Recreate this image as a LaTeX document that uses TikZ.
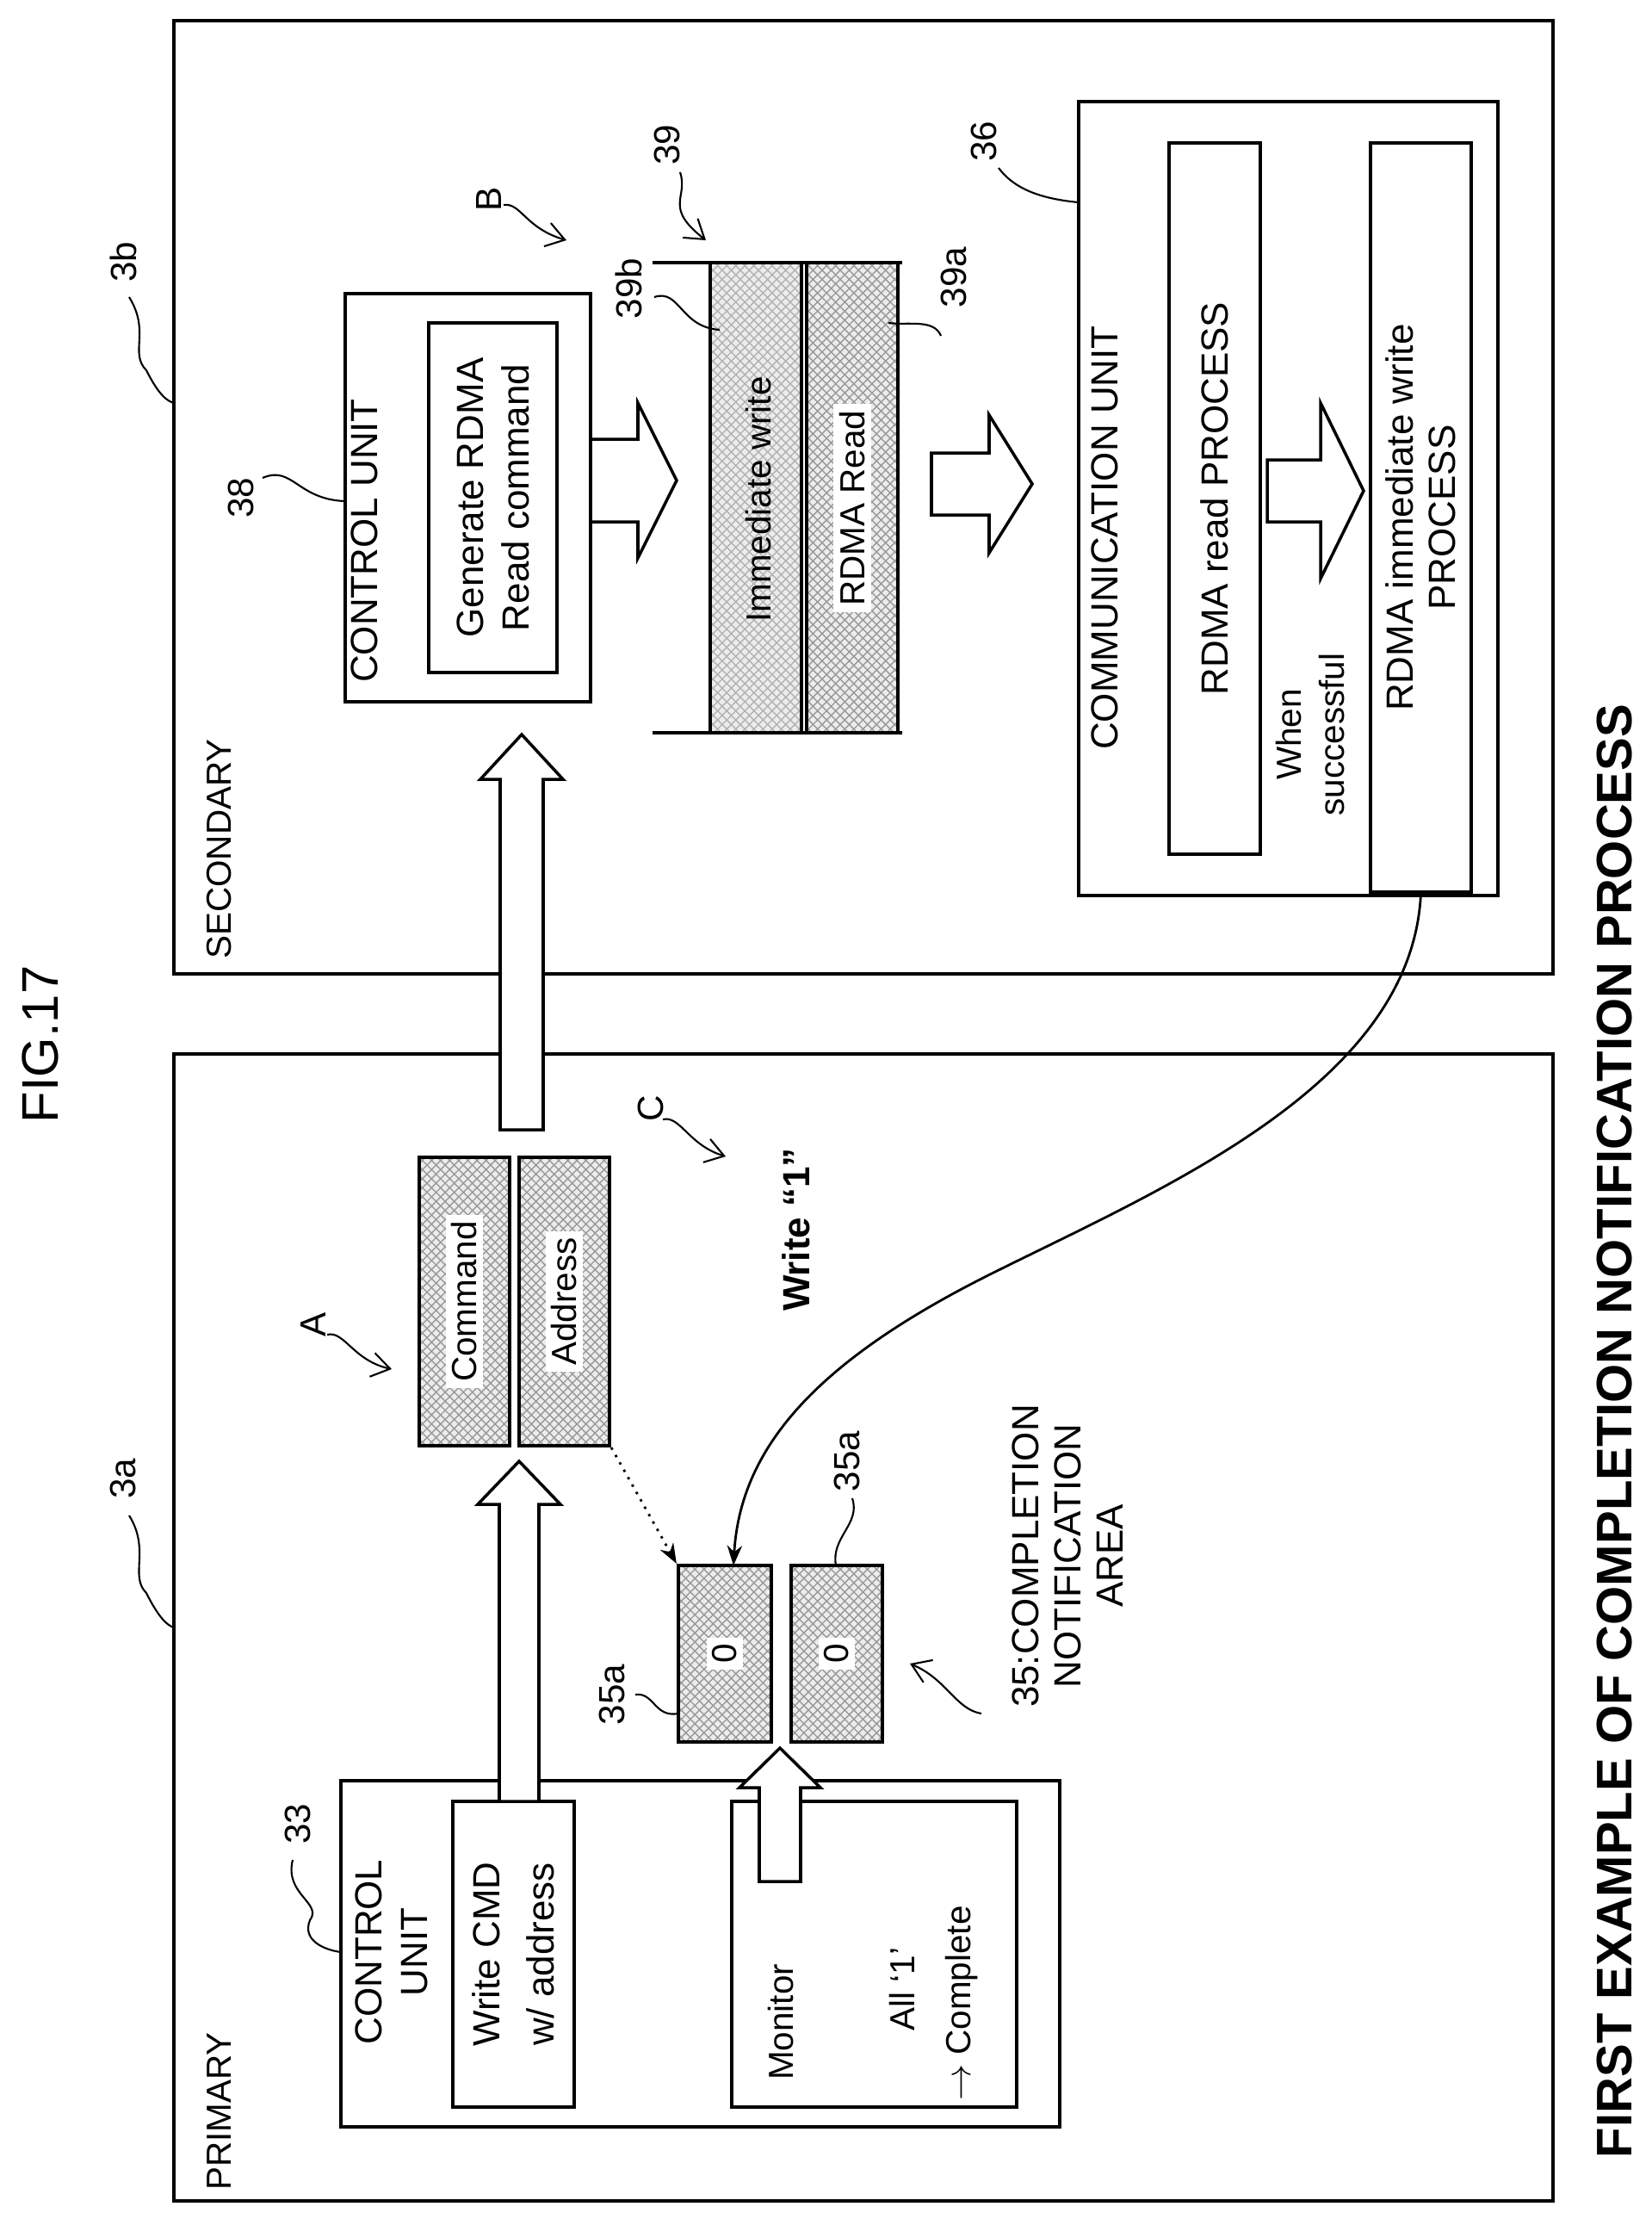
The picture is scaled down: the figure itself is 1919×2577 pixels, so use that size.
\documentclass[tikz,border=0pt]{standalone}
\usepackage{fontspec}
\setmainfont{Liberation Sans}
\usetikzlibrary{arrows.meta,fit,patterns}

\tikzstyle{frame}=[draw, line width=1.2pt, inner sep=0pt]
\tikzstyle{element}=[draw, line width=1pt, inner sep=0pt]
\tikzstyle{cell}=[draw, line width=1.2pt, inner sep=0pt, pattern=crosshatch,
                  pattern color=gray!80, preaction={fill=gray!15}]
\tikzstyle{txt}=[rotate=90, inner sep=1pt, align=center, font=\fontsize{11.5}{14}\selectfont]
\tikzstyle{ref}=[rotate=90, inner sep=1pt, font=\fontsize{12}{14}\selectfont]
\tikzstyle{fat}=[draw, line width=1pt, fill=white]
\tikzstyle{lead}=[line width=0.6pt]
\tikzstyle{point}=[line width=0.6pt, -{Straight Barb[length=6pt,width=8pt]}]

% hollow block arrows
\newcommand{\fatup}[6]{% centre x, half shaft, half head, base y, head base y, tip y
  \draw[fat] (#1-#2,#4) -- (#1-#2,#5) -- (#1-#3,#5) -- (#1,#6) -- (#1+#3,#5)
             -- (#1+#2,#5) -- (#1+#2,#4) -- cycle;}
\newcommand{\fatright}[6]{% centre y, half shaft, half head, base x, head base x, tip x
  \draw[fat] (#4,#1-#2) -- (#5,#1-#2) -- (#5,#1-#3) -- (#6,#1) -- (#5,#1+#3)
             -- (#5,#1+#2) -- (#4,#1+#2) -- cycle;}

\begin{document}
\begin{tikzpicture}[x=0.01cm, y=-0.01cm]
\useasboundingbox (0,0) rectangle (1919,2577);

%%%%%%%%%%%%%%%%%%%%%%%%%%%%%%
% frames

\node (fig) at (47,1213) [rotate=90, font=\fontsize{17}{20}\selectfont] {FIG.17};
\node (title) at (1876,1662) [rotate=90, font=\bfseries\fontsize{16.5}{18}\selectfont]
  {FIRST EXAMPLE OF COMPLETION NOTIFICATION PROCESS};

\node (prim) [frame, fit={(202,1224) (1804,2556)}] {};
\node (sec) [frame, fit={(202,24) (1804,1131)}] {};
\node (prim_t) at (255,2548) [txt, anchor=west] {PRIMARY};
\node (sec_t) at (255,1118) [txt, anchor=west] {SECONDARY};

\node (l3a) at (143,1717) [ref] {3a};
\draw [lead] (150,1760) .. controls (175,1800) and (150,1830) .. (170,1850)
  .. controls (185,1880) and (195,1888) .. (202,1890);
\node (l3b) at (143,304) [ref] {3b};
\draw [lead] (150,345) .. controls (175,385) and (150,410) .. (170,430)
  .. controls (185,460) and (195,466) .. (202,468);

%%%%%%%%%%%%%%%%%%%%%%%%%%%%%%
% primary

\node (cu_a) [element, fit={(396,2068) (1231,2470)}] {};
\node at (455,2267) [txt, font=\fontsize{12.5}{15}\selectfont] {CONTROL\\UNIT};
\node (write_a) [element, fit={(526,2092) (667,2447)}] {};
\node at (write_a.center) [txt, font=\fontsize{12.5}{15}\selectfont] {Write CMD\\[3pt]w/ address};
\node (mon_a) [element, fit={(850,2092) (1181,2447)}] {};
\node at (907,2420) [txt, anchor=west] {Monitor};
\node at (1048,2310) [txt] {All `1'};
\node at (1117,2444) [txt, anchor=west] {$\rightarrow$ Complete};

\node (l33) at (346,2118) [ref] {33};
\draw [lead] (340,2160) .. controls (330,2200) and (375,2210) .. (360,2230)
  .. controls (350,2255) and (380,2265) .. (396,2267);

\node (cell1) [cell, fit={(788,1818) (896,2023)}] {};
\node at (cell1.center) [txt, fill=white, inner sep=2pt] {0};
\node (cell2) [cell, fit={(919,1818) (1025,2023)}] {};
\node at (cell2.center) [txt, fill=white, inner sep=2pt] {0};

\node (cmd) [cell, fit={(487,1344) (592,1679)}] {};
\node at (cmd.center) [txt, fill=white, inner sep=2pt] {Command};
\node (addr) [cell, fit={(603,1344) (708,1679)}] {};
\node at (addr.center) [txt, fill=white, inner sep=2pt] {Address};

\node (l35a_1) at (711,1968) [ref] {35a};
\draw [lead] (738,1968) .. controls (760,1965) and (760,1995) .. (788,1990);
\node (l35a_2) at (984,1697) [ref] {35a};
\draw [lead] (990,1740) .. controls (1000,1770) and (965,1785) .. (971,1818);
\node (l35) at (1240,1807) [txt, font=\fontsize{12.5}{14}\selectfont]
  {35:COMPLETION\\NOTIFICATION\\AREA};
\draw [point] (1140,1990) .. controls (1110,1985) and (1100,1950) .. (1057,1932);

\node (la) at (364,1538) [ref] {A};
\draw [point] (380,1550) .. controls (400,1545) and (410,1580) .. (455,1590);
\node (lc) at (756,1287) [ref] {C};
\draw [point] (770,1300) .. controls (790,1295) and (800,1330) .. (843,1343);
\node (w1) at (925,1428) [txt, font=\bfseries\fontsize{12.5}{15}\selectfont] {Write ``1''};

%%%%%%%%%%%%%%%%%%%%%%%%%%%%%%
% secondary

\node (cu_b) [element, fit={(401,341) (686,815)}] {};
\node at (423,797) [txt, anchor=west, font=\fontsize{12.5}{15}\selectfont] {CONTROL UNIT};
\node (gen_b) [element, fit={(498,375) (647,781)}] {};
\node at (gen_b.center) [txt, font=\fontsize{12.5}{15}\selectfont] {Generate RDMA\\Read command};
\node (l38) at (280,578) [ref] {38};
\draw [lead] (305,555) .. controls (340,540) and (345,580) .. (401,582);

\draw [line width=1.4pt] (758,305) -- (1048,305);
\draw [line width=1.4pt] (758,851) -- (1048,851);
\node (q39b) [cell, fit={(825,305) (931,851)}, pattern color=gray!60] {};
\node at (881,580) [txt] {Immediate write};
\node (q39a) [cell, fit={(937,305) (1043,851)}] {};
\node at (990,590) [txt, fill=white, inner sep=2pt] {RDMA Read};

\node (l39) at (775,168) [ref] {39};
\draw [point] (790,200) .. controls (800,230) and (770,240) .. (820,279);
\node (lb) at (568,231) [ref] {B};
\draw [point] (585,238) .. controls (605,235) and (610,265) .. (658,279);
\node (l39b) at (730,335) [ref] {39b};
\draw [lead] (760,345) .. controls (790,335) and (790,380) .. (836,383);
\node (l39a) at (1108,322) [ref] {39a};
\draw [lead] (1093,390) .. controls (1085,370) and (1055,378) .. (1032,375);

\node (com) [element, fit={(1253,118) (1740,1040)}] {};
\node at (1283,875) [txt, anchor=west, font=\fontsize{12.5}{15}\selectfont] {COMMUNICATION UNIT};
\node (rd) [element, fit={(1358,166) (1464,992)}] {};
\node at (rd.center) [txt, font=\fontsize{12.5}{15}\selectfont] {RDMA read PROCESS};
\node (imw) [element, fit={(1592,166) (1709,1036)}] {};
\node at (imw.center) [txt, font=\fontsize{12.5}{14}\selectfont] {RDMA immediate write\\PROCESS};
\node at (1522,853) [txt] {When\\successful};
\node (l36) at (1143,164) [ref] {36};
\draw [lead] (1160,195) .. controls (1175,215) and (1200,230) .. (1253,235);

%%%%%%%%%%%%%%%%%%%%%%%%%%%%%%
% links

\fatup{606}{25}{48}{1312}{905}{853}
\fatup{603}{23}{48}{2092}{1747}{1697}
\fatup{906}{24}{47}{2185}{2076}{2030}
\fatright{558}{48}{90}{686}{741}{786}
\fatright{562}{36}{80}{1082}{1149}{1199}
\fatright{570}{36}{102}{1472}{1534}{1584}

\draw [->, >=Stealth, line width=0.8pt, dotted] (addr.south east) -- (cell1.north west);
\draw [->, >=Stealth, line width=0.8pt] (imw.south) .. controls (1640,1260) and (1350,1380)
  .. (1150,1480) .. controls (950,1580) and (860,1680) .. (852,1818);

\end{tikzpicture}
\end{document}
